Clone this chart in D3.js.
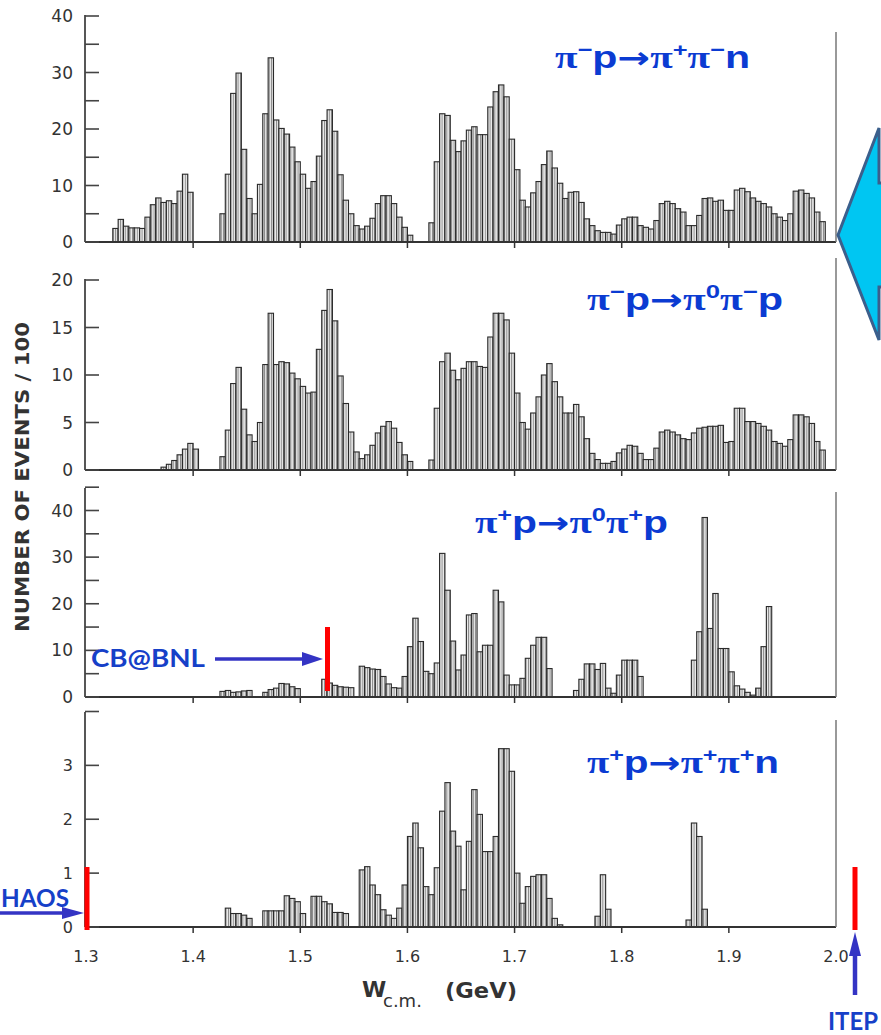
<!DOCTYPE html>
<html>
<head>
<meta charset="utf-8">
<script src="https://cdn.jsdelivr.net/npm/d3@7"></script>
<style>
  html, body { margin: 0; padding: 0; background: #fff; overflow: hidden; }
  svg { display: block; }
</style>
</head>
<body>
<script>
const width = 881;
const height = 1035;

// x axis (W c.m., GeV)
const wTicks = [1.3, 1.4, 1.5, 1.6, 1.7, 1.8, 1.9, 2.0];
const binWidth = 0.005;

// pi- p -> pi+ pi- n   (events / 100, one value per 5 MeV bin)
const p1Starts = [1.325, 1.425, 1.62];
const p1Counts = [
  [2.4, 4.0, 2.8, 2.5, 2.5, 2.4, 4.4, 6.6, 7.8, 7.0, 7.3, 6.8, 9.0, 12.0, 8.8],
  [5.0, 12.0, 26.3, 29.9, 16.4, 7.7, 5.0, 10.2, 22.7, 32.6, 21.6, 20.1, 19.1, 16.8, 14.2, 12.0, 9.5, 10.7,
   15.2, 21.5, 23.4, 19.6, 11.9, 7.4, 5.0, 2.9, 2.3, 2.8, 4.2, 6.8, 8.2, 8.2, 6.8, 4.4, 2.6, 1.2],
  [3.4, 14.2, 22.7, 22.4, 18.0, 16.0, 17.9, 19.8, 20.4, 19.0, 19.0, 23.9, 26.6, 27.8, 25.7, 18.2, 12.8, 7.4,
   6.2, 8.7, 10.7, 13.7, 16.1, 13.1, 10.4, 7.7, 8.8, 8.9, 7.0, 4.1, 2.9, 2.0, 1.7, 1.7, 1.4, 3.0, 4.1, 4.4,
   4.4, 2.9, 2.6, 2.3, 3.8, 6.8, 7.2, 6.8, 5.9, 5.3, 2.9, 2.9, 4.7, 7.7, 7.8, 7.2, 7.4, 5.6, 5.6, 9.2, 9.5,
   8.9, 7.8, 7.2, 6.8, 6.2, 5.0, 4.4, 3.8, 5.0, 9.0, 9.2, 8.6, 7.8, 5.3, 3.6]
];

// pi- p -> pi0 pi- p
const p2Starts = [1.37, 1.425, 1.62];
const p2Counts = [
  [0.3, 0.6, 1.0, 1.6, 2.2, 2.8, 2.2],
  [1.4, 4.2, 9.1, 10.8, 6.4, 3.7, 3.0, 5.0, 11.1, 16.5, 11.1, 11.4, 11.3, 10.2, 9.6, 8.8, 8.1, 8.2, 12.7,
   16.8, 19.0, 15.7, 9.9, 7.0, 4.0, 1.9, 1.2, 1.6, 2.6, 3.9, 4.6, 5.1, 4.4, 2.9, 1.6, 0.9],
  [1.05, 6.5, 11.4, 12.3, 10.5, 9.5, 10.7, 11.4, 11.4, 10.9, 10.8, 14.0, 16.5, 16.5, 15.8, 12.3, 8.1, 5.0,
   4.3, 6.0, 7.7, 10.0, 11.2, 9.3, 7.7, 6.0, 6.0, 6.9, 5.6, 3.3, 1.75, 1.1, 0.7, 0.7, 0.9, 1.8, 2.2, 2.6,
   2.5, 1.75, 1.1, 1.1, 2.3, 4.0, 4.2, 4.0, 3.7, 3.3, 3.2, 3.9, 4.4, 4.5, 4.6, 4.6, 4.7, 2.9, 3.0, 6.5, 6.5,
   5.1, 5.1, 4.9, 4.6, 4.2, 3.0, 2.8, 2.5, 3.2, 5.8, 5.8, 5.6, 4.9, 3.0, 2.1]
];

// pi+ p -> pi0 pi+ p
const p3Starts = [1.425, 1.465, 1.52, 1.555, 1.595, 1.755, 1.865];
const p3Counts = [
  [1.2, 1.4, 1.0, 1.1, 1.3, 1.4],
  [1.0, 1.6, 1.9, 2.9, 2.8, 2.2, 1.8],
  [3.8, 3.0, 2.5, 2.2, 2.1, 2.0],
  [6.6, 6.3, 6.0, 5.9, 4.4, 2.8, 2.0, 1.9],
  [4.4, 10.8, 16.9, 11.9, 5.5, 5.0, 7.3, 30.8, 22.9, 12.0, 5.8, 9.0, 17.6, 17.9, 9.7, 11.1, 11.1, 22.9,
   20.4, 4.7, 2.6, 2.6, 4.0, 8.3, 11.1, 12.8, 12.8, 6.1],
  [1.4, 3.8, 7.1, 7.1, 5.9, 7.2, 1.9, 0.8, 4.7, 7.9, 7.9, 7.9, 4.4],
  [7.9, 14.0, 38.5, 14.7, 22.2, 10.4, 10.4, 5.4, 2.4, 1.7, 1.0, 0.4, 1.9, 10.8, 19.4]
];

// pi+ p -> pi+ pi+ n
const p4Starts = [1.43, 1.465, 1.51, 1.555, 1.775, 1.86];
const p4Counts = [
  [0.35, 0.25, 0.25, 0.22, 0.16],
  [0.30, 0.30, 0.30, 0.30, 0.58, 0.53, 0.47, 0.25],
  [0.57, 0.57, 0.47, 0.43, 0.27, 0.27, 0.25],
  [1.06, 1.12, 0.78, 0.60, 0.32, 0.22, 0.16, 0.35, 0.78, 1.68, 1.93, 1.47, 0.75, 0.60, 1.10, 2.15, 2.68,
   1.78, 1.50, 0.69, 1.59, 2.55, 2.09, 1.40, 1.40, 1.68, 3.31, 3.31, 2.89, 1.00, 0.44, 0.75, 0.94, 0.97,
   0.97, 0.53, 0.16, 0.04],
  [0.2, 0.97, 0.33],
  [0.13, 1.93, 1.68, 0.33]
];

const BLUE = "#0b3bd2";
const INK = "#333";

const svg = d3.select("body")
  .append("svg")
  .attr("width", width)
  .attr("height", height)
  .attr("viewBox", [0, 0, width, height]);

// hatched fill like the scanned bars
const defs = svg.append("defs");
const pat = defs.append("pattern")
  .attr("id", "hatch")
  .attr("patternUnits", "userSpaceOnUse")
  .attr("width", 2.4)
  .attr("height", 10);
pat.append("rect").attr("width", 2.4).attr("height", 10).attr("fill", "#ececec");
pat.append("line").attr("x1", 0.5).attr("x2", 0.5).attr("y1", 0).attr("y2", 10)
  .attr("stroke", "#7c7c7c").attr("stroke-width", 0.9);

const x = d3.scaleLinear().domain([1.3, 2.0]).range([86, 836]);
const axisX = 85;

const panels = [
  {starts: p1Starts, counts: p1Counts, yMax: 40, base: 242, top: 16, axisTop: 15, rightTop: 32,
   ticks: d3.range(0, 41, 5), labels: [0, 10, 20, 30, 40]},
  {starts: p2Starts, counts: p2Counts, yMax: 20, base: 470, top: 280, axisTop: 279, rightTop: 258,
   ticks: d3.range(0, 21, 5), labels: [0, 5, 10, 15, 20]},
  {starts: p3Starts, counts: p3Counts, yMax: 40, base: 697, top: 510.5, axisTop: 488, rightTop: 492,
   ticks: d3.range(0, 46, 5), labels: [0, 10, 20, 30, 40]},
  {starts: p4Starts, counts: p4Counts, yMax: 4, base: 927, top: 711.5, axisTop: 712, rightTop: 720,
   ticks: d3.range(0, 5, 1), labels: [0, 1, 2, 3]}
];

panels.forEach((p, pi) => {
  const y = d3.scaleLinear().domain([0, p.yMax]).range([p.base, p.top]);
  const g = svg.append("g");

  // bins
  const bins = [];
  p.starts.forEach((s, si) => {
    p.counts[si].forEach((v, i) => bins.push({w0: s + i * binWidth, v}));
  });

  g.selectAll("rect.bar")
    .data(bins)
    .join("rect")
    .attr("class", "bar")
    .attr("x", d => x(d.w0))
    .attr("width", d => x(d.w0 + binWidth) - x(d.w0))
    .attr("y", d => y(d.v))
    .attr("height", d => y(0) - y(d.v))
    .attr("fill", "url(#hatch)")
    .attr("stroke", "#2a2a2a")
    .attr("stroke-width", 1.1);

  // baseline
  g.append("line")
    .attr("x1", axisX).attr("x2", x(2.0))
    .attr("y1", p.base).attr("y2", p.base)
    .attr("stroke", INK).attr("stroke-width", 2);

  // x ticks pointing down
  g.selectAll("line.xt")
    .data(wTicks.slice(1, -1))
    .join("line")
    .attr("x1", d => x(d)).attr("x2", d => x(d))
    .attr("y1", p.base).attr("y2", p.base + 6)
    .attr("stroke", INK).attr("stroke-width", 1.5);

  // left axis
  g.append("line")
    .attr("x1", axisX).attr("x2", axisX)
    .attr("y1", p.axisTop).attr("y2", p.base)
    .attr("stroke", "#444").attr("stroke-width", 1.8);

  g.selectAll("line.yt")
    .data(p.ticks)
    .join("line")
    .attr("x1", axisX).attr("x2", axisX + 14)
    .attr("y1", d => y(d)).attr("y2", d => y(d))
    .attr("stroke", "#444").attr("stroke-width", 1.6);

  g.selectAll("text.yl")
    .data(p.labels)
    .join("text")
    .attr("x", 73)
    .attr("y", d => y(d))
    .attr("dy", "0.36em")
    .attr("text-anchor", "end")
    .attr("font-family", "DejaVu Sans, sans-serif")
    .attr("font-size", pi === 3 ? 16 : 17)
    .attr("fill", INK)
    .text(d => d);

  // right frame line
  g.append("line")
    .attr("x1", x(2.0)).attr("x2", x(2.0))
    .attr("y1", p.rightTop).attr("y2", p.base)
    .attr("stroke", "#777").attr("stroke-width", 1.5);

  if (pi === 3) {
    g.selectAll("text.xl")
      .data(wTicks)
      .join("text")
      .attr("x", d => x(d))
      .attr("y", 962)
      .attr("text-anchor", "middle")
      .attr("font-family", "DejaVu Sans, sans-serif")
      .attr("font-size", 16)
      .attr("fill", INK)
      .text(d => d.toFixed(1));
  }
});

// axis titles
svg.append("text")
  .attr("transform", "translate(29,477) rotate(-90)")
  .attr("text-anchor", "middle")
  .attr("font-family", "DejaVu Sans, sans-serif")
  .attr("font-weight", "bold")
  .attr("font-size", 19)
  .attr("textLength", 310)
  .attr("lengthAdjust", "spacingAndGlyphs")
  .attr("fill", INK)
  .text("NUMBER OF EVENTS / 100");

svg.append("text").attr("x", 362).attr("y", 997)
  .attr("font-family", "DejaVu Sans, sans-serif").attr("font-weight", "bold")
  .attr("font-size", 22).attr("fill", INK).text("W");
svg.append("text").attr("x", 383).attr("y", 1007)
  .attr("font-family", "DejaVu Sans, sans-serif").attr("font-size", 18).attr("fill", INK).text("c.m.");
svg.append("text").attr("x", 445).attr("y", 998)
  .attr("font-family", "DejaVu Sans, sans-serif").attr("font-weight", "bold").attr("font-size", 22)
  .attr("textLength", 72).attr("lengthAdjust", "spacingAndGlyphs")
  .attr("fill", INK).text("(GeV)");

// reaction labels
function reaction(xPos, yPos, len, parts) {
  const size = 31;
  const t = svg.append("text")
    .attr("x", xPos).attr("y", yPos)
    .attr("font-family", "Liberation Sans, Arial, sans-serif")
    .attr("font-weight", "bold")
    .attr("font-size", size)
    .attr("textLength", len)
    .attr("lengthAdjust", "spacingAndGlyphs")
    .attr("fill", BLUE);
  let up = false;
  parts.forEach(([s, kind]) => {
    const ts = t.append("tspan").text(s);
    if (kind === "sup") {
      ts.attr("font-size", size * 0.62).attr("dy", up ? 0 : -size * 0.4);
      up = true;
    } else {
      if (up) ts.attr("dy", size * 0.4);
      up = false;
      if (kind === "pi") ts.attr("font-family", "Liberation Serif, serif");
      if (kind === "arrow") ts.attr("font-family", "DejaVu Sans, sans-serif").attr("font-size", size * 0.95);
    }
  });
}

reaction(555, 68, 195, [["π", "pi"], ["−", "sup"], ["p"], ["→", "arrow"], ["π", "pi"], ["+", "sup"], ["π", "pi"], ["−", "sup"], ["n"]]);
reaction(587, 310, 196, [["π", "pi"], ["−", "sup"], ["p"], ["→", "arrow"], ["π", "pi"], ["0", "sup"], ["π", "pi"], ["−", "sup"], ["p"]]);
reaction(475, 533, 193, [["π", "pi"], ["+", "sup"], ["p"], ["→", "arrow"], ["π", "pi"], ["0", "sup"], ["π", "pi"], ["+", "sup"], ["p"]]);
reaction(587, 773, 192, [["π", "pi"], ["+", "sup"], ["p"], ["→", "arrow"], ["π", "pi"], ["+", "sup"], ["π", "pi"], ["+", "sup"], ["n"]]);

// big cyan arrow on the right edge
svg.append("path")
  .attr("d", d3.line()([[838, 235], [879, 128], [879, 183], [900, 183], [900, 287], [879, 287], [879, 340]]) + "Z")
  .attr("fill", "#00c6f2")
  .attr("stroke", "#3b5f8c")
  .attr("stroke-width", 3)
  .attr("stroke-linejoin", "miter");

// annotation markers
const ARROW = "#3434c4";
const ann = svg.append("g").attr("font-family", "Lato, Open Sans, sans-serif").attr("font-weight", "bold").attr("fill", "#1640c8");

ann.append("text").attr("x", 91).attr("y", 667).attr("font-size", 24)
  .attr("textLength", 114).attr("lengthAdjust", "spacingAndGlyphs").text("CB@BNL");
svg.append("line").attr("x1", 215).attr("x2", 306).attr("y1", 659).attr("y2", 659)
  .attr("stroke", ARROW).attr("stroke-width", 3.5);
svg.append("path").attr("d", "M302,652 L323,659 L302,666 Z").attr("fill", ARROW);
svg.append("line").attr("x1", 327.5).attr("x2", 327.5).attr("y1", 627).attr("y2", 691)
  .attr("stroke", "#f00").attr("stroke-width", 5);

// only the tail of this label is visible in the reference
ann.append("text").attr("x", 1).attr("y", 907).attr("font-size", 25)
  .attr("textLength", 68).attr("lengthAdjust", "spacingAndGlyphs").text("HAOS");
svg.append("line").attr("x1", 0).attr("x2", 66).attr("y1", 913).attr("y2", 913)
  .attr("stroke", ARROW).attr("stroke-width", 3.5);
svg.append("path").attr("d", "M62,907 L84,913 L62,919 Z").attr("fill", ARROW);
svg.append("line").attr("x1", 87).attr("x2", 87).attr("y1", 867).attr("y2", 930)
  .attr("stroke", "#f00").attr("stroke-width", 5);

svg.append("line").attr("x1", 855).attr("x2", 855).attr("y1", 867).attr("y2", 930)
  .attr("stroke", "#f00").attr("stroke-width", 5);
svg.append("line").attr("x1", 855).attr("x2", 855).attr("y1", 995).attr("y2", 950)
  .attr("stroke", ARROW).attr("stroke-width", 4.5);
svg.append("path").attr("d", "M849,956 L855,932 L861,956 Z").attr("fill", ARROW);
ann.append("text").attr("x", 828).attr("y", 1030).attr("font-size", 24)
  .attr("textLength", 50).attr("lengthAdjust", "spacingAndGlyphs").text("ITEP");
</script>
</body>
</html>
